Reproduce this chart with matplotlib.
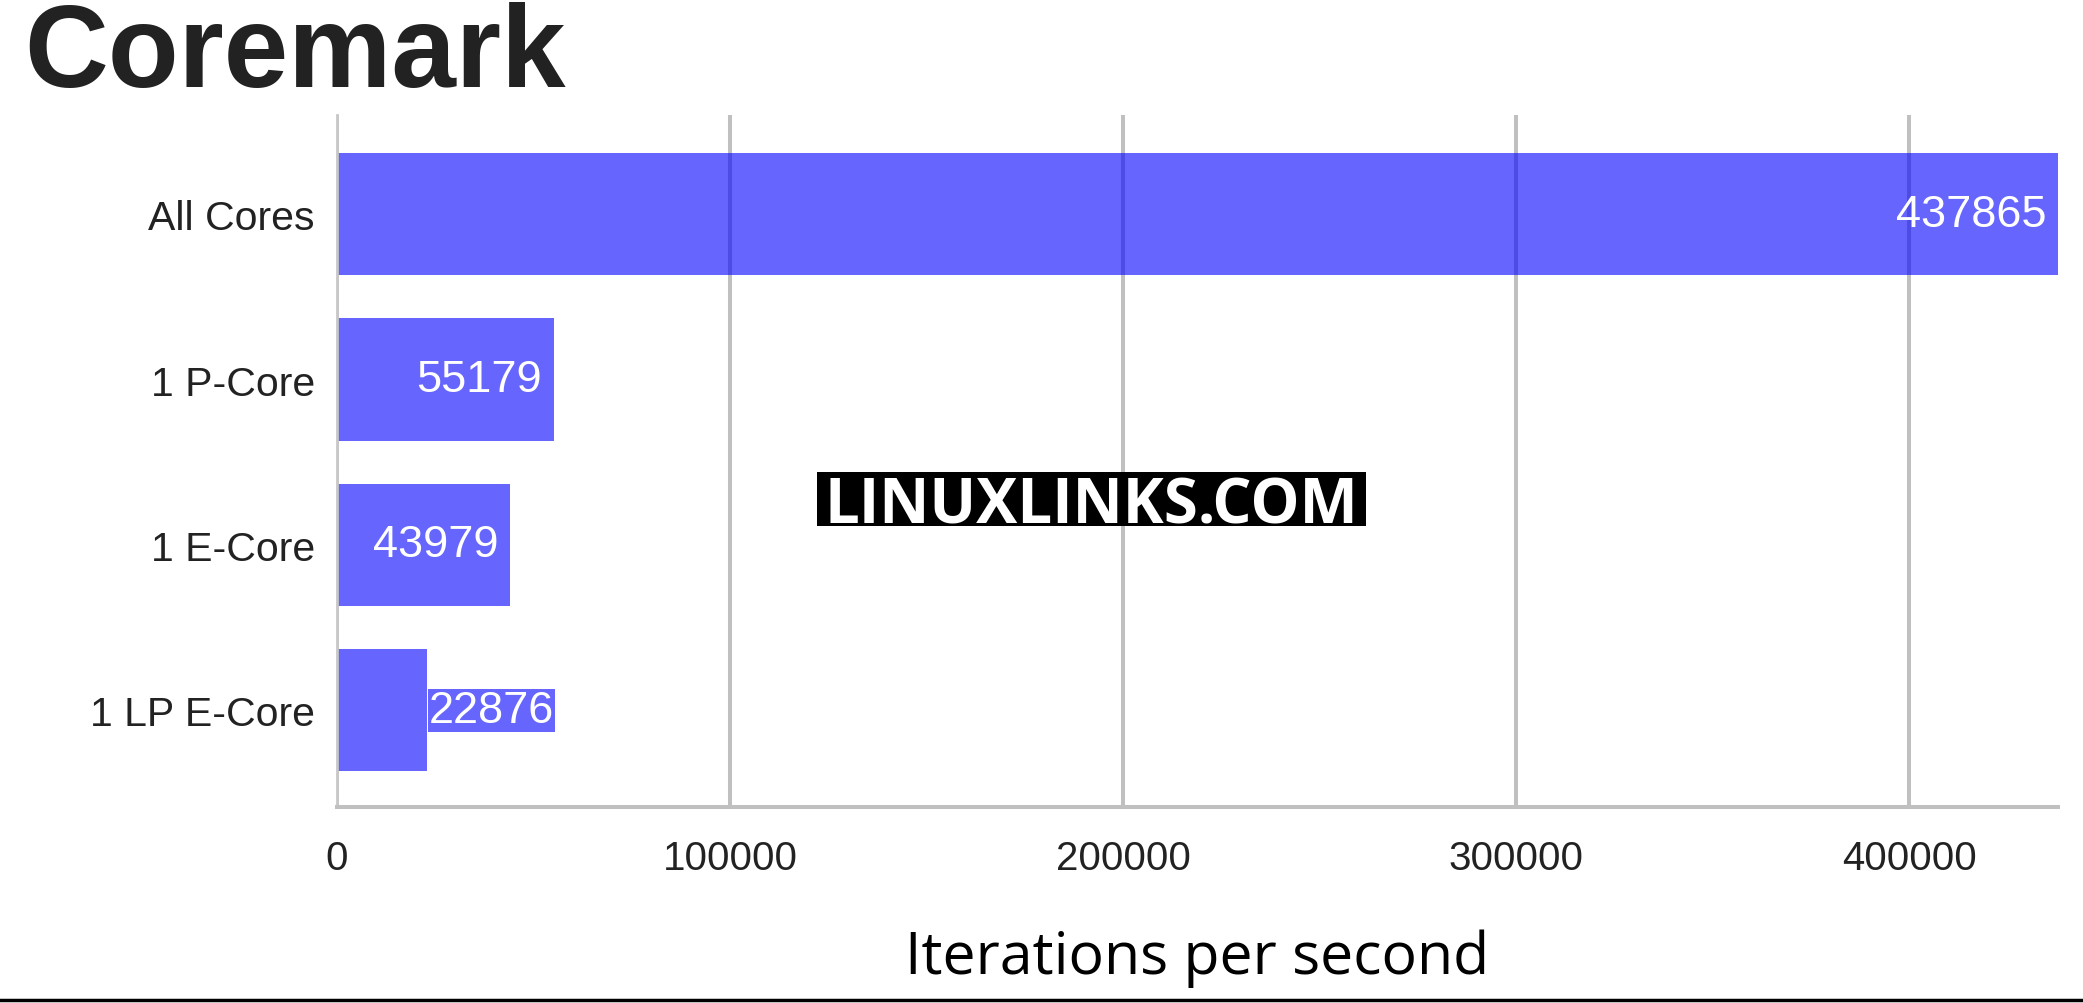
import matplotlib.pyplot as plt
from matplotlib.lines import Line2D
from matplotlib.patches import Rectangle

# data
categories = ['All Cores', '1 P-Core', '1 E-Core', '1 LP E-Core']
values = [437865, 55179, 43979, 22876]
xticks = [0, 100000, 200000, 300000, 400000]

plt.rcParams['font.family'] = ['Liberation Sans', 'DejaVu Sans']

fig = plt.figure(figsize=(20.83, 10.04), dpi=100)
ax = fig.add_axes([337 / 2083, 1 - 808 / 1004, (2058 - 337) / 2083, (808 - 116) / 1004])

ypos = list(range(len(categories)))
ax.barh(ypos, values, height=0.74, color=(0, 0, 1, 0.6), zorder=2)

ax.set_xlim(0, max(values))
ax.set_ylim(3.585, -0.6)
ax.set_yticks(ypos)
ax.set_yticklabels(categories, fontsize=29.5, color='#222222')
ax.set_xticks(xticks)
ax.set_xticklabels([str(t) for t in xticks], fontsize=29, color='#222222')
ax.tick_params(axis='x', length=0, pad=23)
ax.tick_params(axis='y', length=0, pad=16)

ax.grid(axis='x', color='#c0c0c0', linewidth=2.9, zorder=1)
ax.set_axisbelow(True)
for s in ['top', 'right']:
    ax.spines[s].set_visible(False)
ax.spines['left'].set_color('#c8c8c8')
ax.spines['left'].set_linewidth(2)
ax.spines['bottom'].set_color('#c0c0c0')
ax.spines['bottom'].set_linewidth(2.9)

# value labels: inside at the end, outside with background if too short
for y, v in zip(ypos, values):
    if v > 35000:
        ax.text(v - 3000, y, str(v), ha='right', va='center', fontsize=32.5,
                color='white', zorder=3)
    else:
        ax.text(v + 500, y, str(v), ha='left', va='center', fontsize=32.5,
                color='white', zorder=3,
                bbox=dict(boxstyle='square,pad=0.02', fc='#6666ff', ec='none'))

ax.set_xlabel('Iterations per second', fontsize=42.5, family='Open Sans',
              color='black', labelpad=37)

fig.text(24 / 2083, 1 - 2 / 1004, 'Coremark', fontsize=83.5, fontweight='bold',
         color='#222222', ha='left', va='top')

# watermark
fig.add_artist(Rectangle((817 / 2083, 1 - 527 / 1004), (1366 - 817) / 2083, 54 / 1004,
                         transform=fig.transFigure, fc='black', ec='none', zorder=5))
fig.text(1091 / 2083, 1 - 500 / 1004, 'LINUXLINKS.COM', fontsize=44.5,
         fontweight='bold', family='Open Sans', color='white', ha='center',
         va='center_baseline', zorder=6)

fig.add_artist(Line2D([0, 1], [1 - 1001 / 1004] * 2, color='black', linewidth=2.5))

fig.savefig('out.png', dpi=100, facecolor='white')
